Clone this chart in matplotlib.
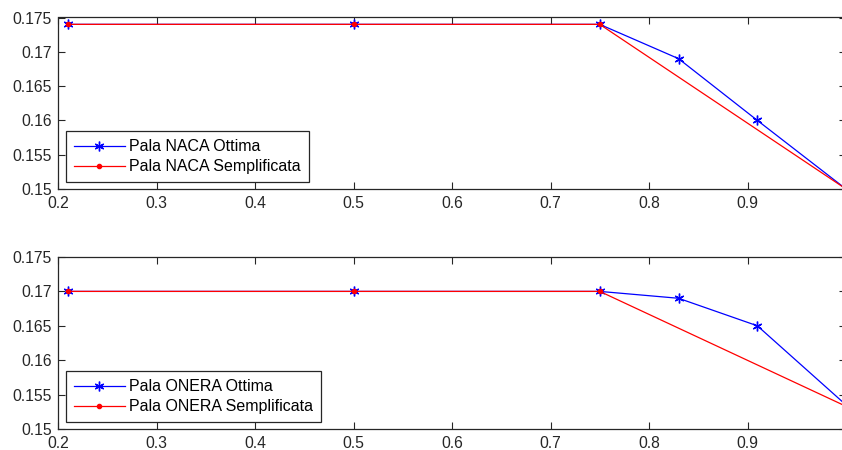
import matplotlib
matplotlib.use("Agg")
import matplotlib.pyplot as plt

plt.rcParams['font.family'] = ['Liberation Sans', 'DejaVu Sans']

# Chord distribution along the blade span
x_opt = [0.21, 0.5, 0.75, 0.83, 0.91, 1.0]
x_simp = [0.21, 0.5, 0.75, 1.0]

naca_opt = [0.174, 0.174, 0.174, 0.169, 0.160, 0.150]
naca_simp = [0.174, 0.174, 0.174, 0.150]

onera_opt = [0.170, 0.170, 0.170, 0.169, 0.165, 0.1535]
onera_simp = [0.170, 0.170, 0.170, 0.1533]

xticks = [0.2, 0.3, 0.4, 0.5, 0.6, 0.7, 0.8, 0.9, 1.0]
xtick_labels = ['0.2', '0.3', '0.4', '0.5', '0.6', '0.7', '0.8', '0.9', '']
yticks = [0.15, 0.155, 0.16, 0.165, 0.17, 0.175]
ytick_labels = ['0.15', '0.155', '0.16', '0.165', '0.17', '0.175']

panels = [
    (naca_opt, naca_simp, 'Pala NACA Ottima', 'Pala NACA Semplificata'),
    (onera_opt, onera_simp, 'Pala ONERA Ottima', 'Pala ONERA Semplificata'),
]

fig = plt.figure(figsize=(8.42, 4.5), dpi=100)
fig.patch.set_facecolor('white')

W, H = 842.0, 450.0
left_px, right_px = 58, 846
boxes = [(17.5, 189), (257, 429)]

asterisk = (6, 2, 0)

for (opt, simp, lab_opt, lab_simp), (top_px, bot_px) in zip(panels, boxes):
    ax = fig.add_axes([left_px / W, 1 - bot_px / H,
                       (right_px - left_px) / W, (bot_px - top_px) / H])
    ax.plot(x_opt, opt, color='#0000ff', lw=0.9, marker=asterisk,
            markersize=7, markeredgewidth=1.0, label=lab_opt)
    ax.plot(x_simp, simp, color='#ff0000', lw=0.9, marker='.',
            markersize=6, label=lab_simp)
    ax.set_xlim(0.2, 1.0)
    ax.set_ylim(0.15, 0.175)
    ax.set_xticks(xticks)
    ax.set_xticklabels(xtick_labels)
    ax.set_yticks(yticks)
    ax.set_yticklabels(ytick_labels)
    ax.tick_params(direction='in', top=True, right=True, length=5,
                   width=0.8, labelsize=11.3, colors='#262626')
    ax.tick_params(axis='x', pad=5)
    ax.tick_params(axis='y', pad=4.5)
    for s in ax.spines.values():
        s.set_linewidth(0.9)
        s.set_color('#262626')
    leg = ax.legend(loc='lower left', bbox_to_anchor=(0.01, 0.04),
                    borderaxespad=0, fancybox=False, framealpha=1,
                    edgecolor='#262626', fontsize=11.5, handlelength=3.2,
                    handletextpad=0.25, borderpad=0.5, labelspacing=0.3)
    leg.get_frame().set_linewidth(0.9)

fig.savefig('out.png', dpi=100, facecolor='white')
